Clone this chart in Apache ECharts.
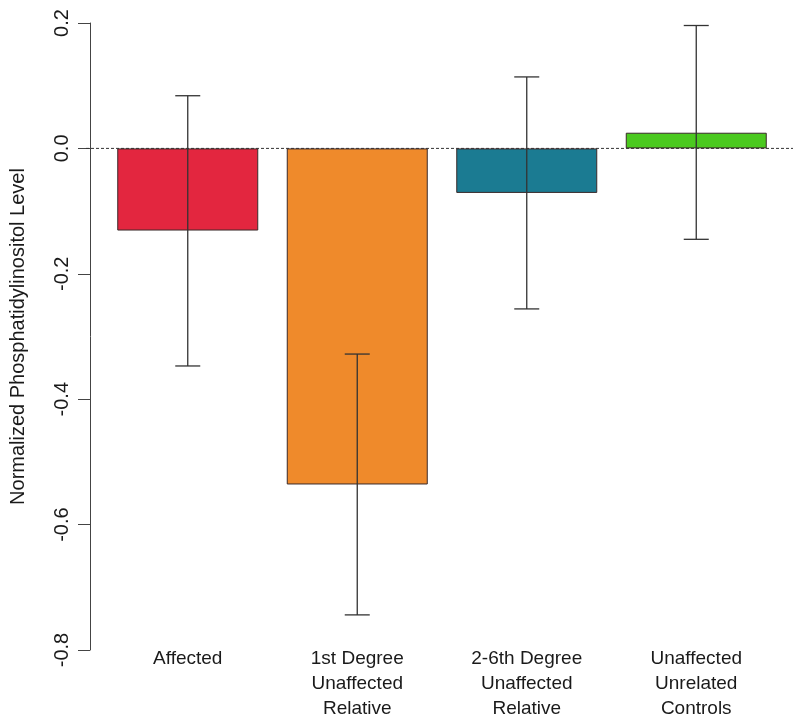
<!DOCTYPE html>
<html>
<head>
<meta charset="utf-8">
<script src="https://cdn.jsdelivr.net/npm/echarts@6/dist/echarts.min.js"></script>
<style>
  html, body { margin: 0; padding: 0; background: #ffffff; }
  #chart { width: 800px; height: 726px; }
</style>
</head>
<body>
<div id="chart"></div>
<script>
// ---- data ----
const categories = [
  'Affected',
  '1st Degree\nUnaffected\nRelative',
  '2-6th Degree\nUnaffected\nRelative',
  'Unaffected\nUnrelated\nControls'
];
const means = [-0.131, -0.536, -0.071, 0.025];
const errLow = [-0.347, -0.744, -0.256, -0.145];
const errHigh = [0.084, -0.328, 0.114, 0.196];
const barColors = ['#E3263F', '#EF8A2B', '#1B7B92', '#4BC91F'];
const yTicks = { min: -0.8, max: 0.2, step: 0.2 };
const yTitle = 'Normalized Phosphatidylinositol Level';
const refLine = [[0, 0], [1, 0]];

const chart = echarts.init(document.getElementById('chart'), null, { renderer: 'canvas' });

const fontFamily = '"Liberation Sans", Arial, Helvetica, sans-serif';

const option = {
  backgroundColor: '#ffffff',
  animation: false,
  grid: [
    { left: 103, right: 19, top: 23, bottom: 76 },
    { left: 86, right: 7, top: 23, bottom: 76 }
  ],
  xAxis: [
    {
      type: 'category',
      gridIndex: 0,
      data: categories,
      axisLine: { show: false },
      axisTick: { show: false },
      axisLabel: {
        interval: 0,
        margin: -4,
        fontSize: 19,
        lineHeight: 25,
        color: '#1a1a1a',
        fontFamily: fontFamily
      }
    },
    {
      type: 'value',
      gridIndex: 1,
      min: 0,
      max: 1,
      show: false
    }
  ],
  yAxis: [
    {
      type: 'value',
      gridIndex: 0,
      min: yTicks.min,
      max: yTicks.max,
      interval: yTicks.step,
      offset: 13,
      name: yTitle,
      nameLocation: 'middle',
      nameRotate: 90,
      nameGap: 62,
      nameTextStyle: { fontSize: 20, color: '#1a1a1a', fontFamily: fontFamily },
      axisLine: { show: true, lineStyle: { color: '#444', width: 1 } },
      axisTick: { show: true, length: 12, lineStyle: { color: '#444', width: 1 } },
      splitLine: { show: false },
      axisLabel: {
        rotate: 90,
        margin: 18,
        fontSize: 20,
        color: '#1a1a1a',
        fontFamily: fontFamily,
        formatter: v => v.toFixed(1)
      }
    },
    {
      type: 'value',
      gridIndex: 1,
      min: yTicks.min,
      max: yTicks.max,
      show: false
    }
  ],
  series: [
    {
      type: 'line',
      xAxisIndex: 1,
      yAxisIndex: 1,
      data: refLine,
      symbol: 'none',
      silent: true,
      z: 1,
      lineStyle: { color: '#333', width: 1, type: [3, 2] }
    },
    {
      type: 'bar',
      xAxisIndex: 0,
      yAxisIndex: 0,
      barWidth: 141,
      z: 2,
      data: means.map((v, i) => ({
        value: v,
        itemStyle: { color: barColors[i], borderColor: '#3a2a2a', borderWidth: 1 }
      }))
    },
    {
      type: 'custom',
      xAxisIndex: 0,
      yAxisIndex: 0,
      z: 3,
      encode: { x: 0, y: [1, 2] },
      data: categories.map((c, i) => [i, errLow[i], errHigh[i]]),
      renderItem: function (params, api) {
        const i = api.value(0);
        const lo = api.coord([i, api.value(1)]);
        const hi = api.coord([i, api.value(2)]);
        const hw = 12.5;
        const style = { stroke: '#333', lineWidth: 1.3, fill: null };
        return {
          type: 'group',
          children: [
            { type: 'line', shape: { x1: lo[0], y1: lo[1], x2: hi[0], y2: hi[1] }, style: style },
            { type: 'line', shape: { x1: lo[0] - hw, y1: lo[1], x2: lo[0] + hw, y2: lo[1] }, style: style },
            { type: 'line', shape: { x1: hi[0] - hw, y1: hi[1], x2: hi[0] + hw, y2: hi[1] }, style: style }
          ]
        };
      }
    }
  ]
};

chart.setOption(option);
</script>
</body>
</html>
